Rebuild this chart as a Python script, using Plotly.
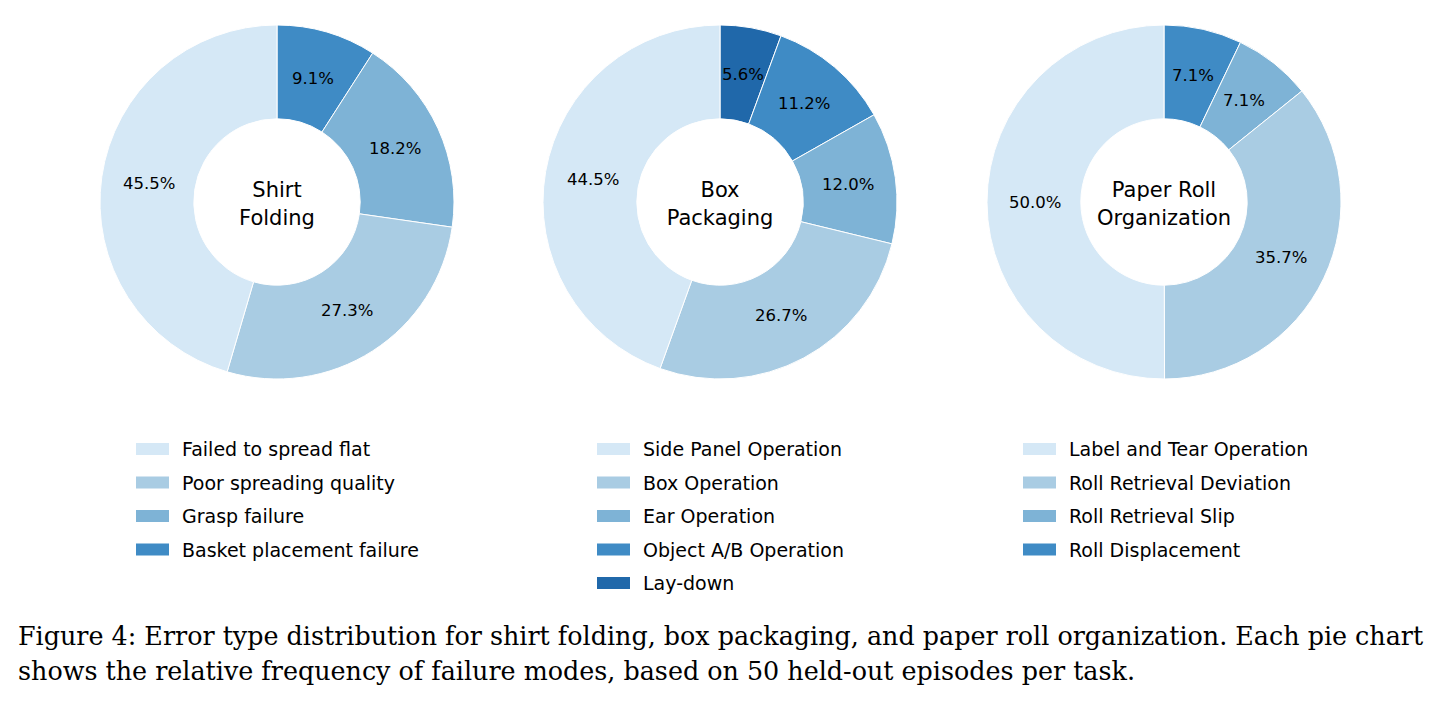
import math
import plotly.graph_objects as go

# ---------------- data ----------------
shirt_labels = ["Failed to spread flat", "Poor spreading quality", "Grasp failure", "Basket placement failure"]
shirt_values = [45.5, 27.3, 18.2, 9.1]

box_labels = ["Side Panel Operation", "Box Operation", "Ear Operation", "Object A/B Operation", "Lay-down"]
box_values = [44.5, 26.7, 12.0, 11.2, 5.6]

roll_labels = ["Label and Tear Operation", "Roll Retrieval Deviation", "Roll Retrieval Slip", "Roll Displacement"]
roll_values = [50.0, 35.7, 7.1, 7.1]

titles = ["Shirt<br>Folding", "Box<br>Packaging", "Paper Roll<br>Organization"]
palette = ["#d5e8f6", "#a9cce3", "#7eb3d6", "#3f8bc5", "#2068aa"]

caption_lines = [
    "Figure 4: Error type distribution for shirt folding, box packaging, and paper roll organization. Each pie chart",
    "shows the relative frequency of failure modes, based on 50 held-out episodes per task.",
]

# ---------------- layout constants ----------------
W, H = 1443, 703
centers_x = [277, 720, 1164]
center_y = 202
radius = 177
hole = 0.47
pct_r = 0.73          # label distance as a fraction of the outer radius
legend_x = [136, 597, 1023]
legend_y0 = 449
legend_dy = 33.5

fig = go.Figure()
datasets = [(shirt_labels, shirt_values), (box_labels, box_values), (roll_labels, roll_values)]

for i, (labels, values) in enumerate(datasets):
    cx = centers_x[i]
    n = len(labels)
    # slices run counterclockwise from 12 o'clock in the original, which is the
    # reversed order drawn clockwise
    fig.add_trace(go.Pie(
        labels=labels[::-1],
        values=values[::-1],
        sort=False,
        direction="clockwise",
        rotation=0,
        hole=hole,
        marker=dict(colors=palette[:n][::-1], line=dict(color="white", width=1)),
        textinfo="none",
        title=dict(text=titles[i], position="middle center",
                   font=dict(family="DejaVu Sans", size=21, color="black")),
        domain=dict(x=[(cx - radius) / W, (cx + radius) / W],
                    y=[1 - (center_y + radius) / H, 1 - (center_y - radius) / H]),
        showlegend=False,
        hoverinfo="label+value",
    ))

    # percentage labels, placed matplotlib-style at the middle angle of each wedge
    total = sum(values)
    cum = 0.0
    for v in values:
        mid = (cum + v / 2) / total * 2 * math.pi   # counterclockwise from 12 o'clock
        cum += v
        px = cx - pct_r * radius * math.sin(mid)
        py = center_y - pct_r * radius * math.cos(mid)
        fig.add_annotation(xref="paper", yref="paper", x=px / W, y=1 - py / H,
                           text=f"{v:.1f}%", showarrow=False,
                           xanchor="center", yanchor="middle",
                           font=dict(family="DejaVu Sans", size=16.5, color="black"))

    # manual legend (matplotlib-style rectangular patches)
    for j, lab in enumerate(labels):
        y = legend_y0 + j * legend_dy
        fig.add_shape(type="rect", xref="paper", yref="paper",
                      x0=legend_x[i] / W, x1=(legend_x[i] + 33) / W,
                      y0=1 - (y + 6) / H, y1=1 - (y - 6) / H,
                      fillcolor=palette[j], line=dict(width=0))
        fig.add_annotation(xref="paper", yref="paper", x=(legend_x[i] + 44) / W, y=1 - y / H,
                           text=lab, showarrow=False, xanchor="left", yanchor="middle",
                           font=dict(family="DejaVu Sans", size=19, color="black"))

cap_y = [636, 671]
for k, line in enumerate(caption_lines):
    fig.add_annotation(xref="paper", yref="paper", x=16 / W, y=1 - cap_y[k] / H,
                       text=line, showarrow=False, xanchor="left", yanchor="middle",
                       font=dict(family="DejaVu Serif", size=25.4, color="black"))

fig.update_layout(width=W, height=H, margin=dict(l=0, r=0, t=0, b=0),
                  paper_bgcolor="white", plot_bgcolor="white")

fig.write_html("out.html")
